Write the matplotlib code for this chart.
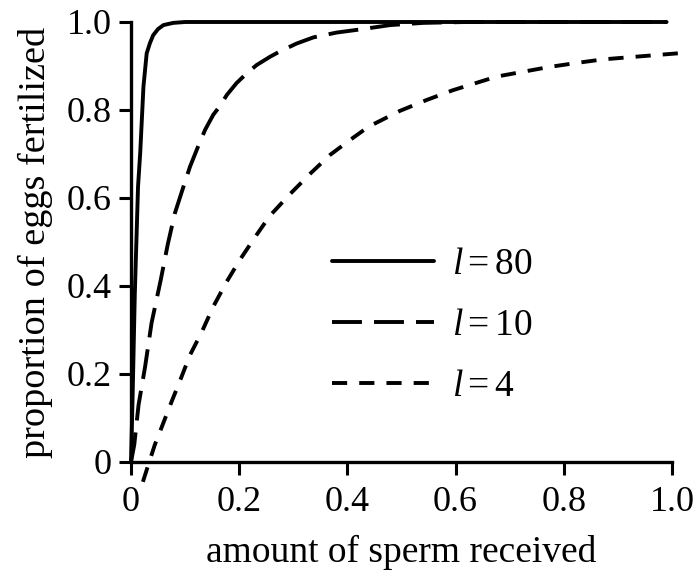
import matplotlib
matplotlib.use("Agg")
import matplotlib.pyplot as plt

plt.rcParams['font.family'] = ['Liberation Serif', 'DejaVu Serif']
plt.rcParams['mathtext.fontset'] = 'custom'
plt.rcParams['mathtext.rm'] = 'Liberation Serif'
plt.rcParams['mathtext.it'] = 'Liberation Serif:italic'

# l = 80 (solid)
x80 = [0.0, 0.003, 0.007, 0.013, 0.017, 0.020, 0.023, 0.029, 0.035, 0.041, 0.050,
       0.060, 0.078, 0.10, 0.99]
y80 = [0.0, 0.15, 0.38, 0.626, 0.702, 0.777, 0.853, 0.929, 0.952, 0.970, 0.984,
       0.993, 0.998, 1.0, 1.0]

# l = 10 (long dashes)
x10 = [0.0, 0.006, 0.014, 0.026, 0.038, 0.055, 0.068, 0.081, 0.097, 0.109, 0.124,
       0.137, 0.152, 0.165, 0.177, 0.195, 0.211, 0.232, 0.257, 0.275, 0.306, 0.337,
       0.380, 0.423, 0.479, 0.540, 0.62, 0.99]
y10 = [0.0, 0.039, 0.130, 0.216, 0.316, 0.414, 0.495, 0.565, 0.626, 0.671, 0.717,
       0.755, 0.789, 0.810, 0.834, 0.861, 0.880, 0.902, 0.921, 0.933, 0.951, 0.965,
       0.976, 0.983, 0.993, 0.998, 1.0, 1.0]

# l = 4 (short dashes)
x4 = [0.022, 0.035, 0.044, 0.057, 0.075, 0.091, 0.109, 0.131, 0.152, 0.177, 0.201,
      0.232, 0.257, 0.294, 0.331, 0.368, 0.405, 0.439, 0.497, 0.547, 0.595, 0.676,
      0.725, 0.774, 0.824, 0.872, 0.922, 0.972, 1.013]
y4 = [-0.045, 0.005, 0.039, 0.080, 0.137, 0.186, 0.243, 0.296, 0.353, 0.410, 0.459,
      0.516, 0.560, 0.609, 0.655, 0.698, 0.732, 0.762, 0.798, 0.823, 0.845, 0.876,
      0.887, 0.898, 0.907, 0.915, 0.920, 0.925, 0.929]

labels = [r"$l = 80$", r"$l = 10$", r"$l = 4$"]
ticks = [0, 0.2, 0.4, 0.6, 0.8, 1.0]
ticklabels = ["0", "0.2", "0.4", "0.6", "0.8", "1.0"]

fig = plt.figure(figsize=(6.97, 5.76), dpi=100)
ax = fig.add_axes([131/697, 1 - 462/576, (672 - 131)/697, (462 - 22)/576])

lw = 2.8
ax.plot(x80, y80, color='black', lw=lw, solid_capstyle='round', clip_on=False, label=labels[0])
ax.plot(x10, y10, color='black', lw=lw, linestyle=(0, (7.7, 3.1)), clip_on=False, label=labels[1])
ax.plot(x4, y4, color='black', lw=lw, linestyle=(0, (3.9, 3.1)), clip_on=False, label=labels[2])

ax.set_xlim(0, 1)
ax.set_ylim(0, 1)
ax.set_xticks(ticks)
ax.set_xticklabels(ticklabels)
ax.set_yticks(ticks)
ax.set_yticklabels(ticklabels)
for s in ['top', 'right']:
    ax.spines[s].set_visible(False)
for s in ['left', 'bottom']:
    ax.spines[s].set_linewidth(2.4)
ax.tick_params(direction='out', length=9, width=2.2, labelsize=26)
ax.tick_params(axis='x', pad=8)
ax.tick_params(axis='y', pad=5)

ax.set_xlabel("amount of sperm received", fontsize=27, labelpad=12)
ax.set_ylabel("proportion of eggs fertilized", fontsize=27.5, labelpad=10)

leg = ax.legend(loc='upper left', bbox_to_anchor=(0.31, 0.565), frameon=False,
                fontsize=27, handlelength=2.7, handletextpad=0.5, labelspacing=0.71)

fig.savefig("out.png", dpi=100)
